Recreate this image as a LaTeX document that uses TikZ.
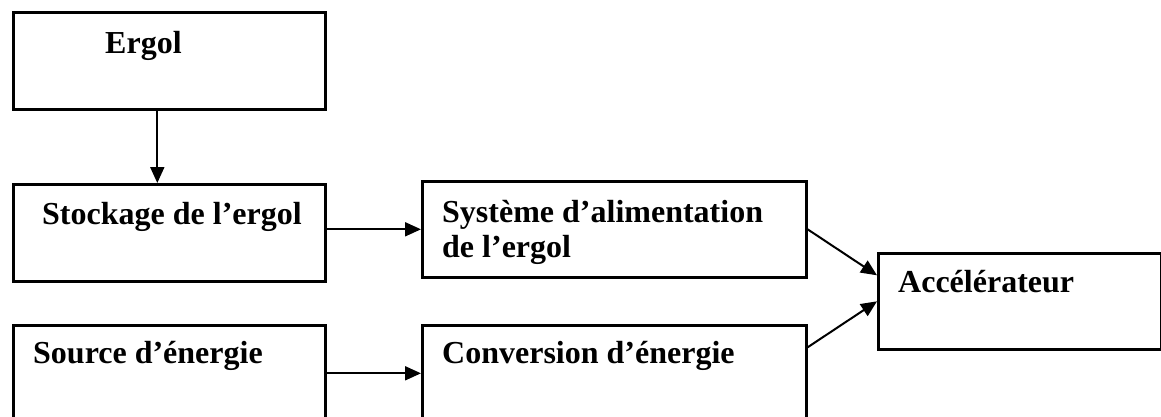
\documentclass[tikz,border=0pt]{standalone}
\usepackage{fontspec}
\setmainfont{Liberation Serif}
\usetikzlibrary{arrows.meta}
\tikzset{
  box/.style={draw=black, line width=2.6pt, rectangle, inner sep=0pt, anchor=north west},
  lbl/.style={anchor=base west, inner sep=0pt, font=\fontsize{32}{35}\selectfont\bfseries, align=left},
  arr/.style={line width=2pt, -{Triangle[length=16pt,width=14pt]}},
}
\begin{document}
\begin{tikzpicture}[x=1pt, y=-1pt]
  \useasboundingbox (0,0) rectangle (1161,416);
  \clip (0,0) rectangle (1161,416);

  % blocks
  \node[box, minimum width=312pt, minimum height=97pt] (ergol) at (12,11) {};
  \node[box, minimum width=312pt, minimum height=97pt] (stock) at (12,183) {};
  \node[box, minimum width=384pt, minimum height=96pt] (sys) at (421,180) {};
  \node[box, minimum width=312pt, minimum height=96pt] (source) at (12,324) {};
  \node[box, minimum width=384pt, minimum height=96pt] (conv) at (421,324) {};
  \node[box, minimum width=283pt, minimum height=96pt] (accel) at (877,252) {};

  % labels (a two-line label sits on the baseline of its last line)
  \node[lbl] (tergol) at (105,53) {Ergol};
  \node[lbl] (tstock) at (42,224) {Stockage de l’ergol};
  \node[lbl] (tsys) at (442,257) {Système d’alimentation\\de l’ergol};
  \node[lbl] (tsource) at (33,363) {Source d’énergie};
  \node[lbl] (tconv) at (442,363) {Conversion d’énergie};
  \node[lbl] (taccel) at (898,292) {Accélérateur};

  % connectors
  \draw[arr] ([xshift=-12pt]ergol.south) -- ([xshift=-12pt]ergol.south |- stock.north);
  \draw[arr] (stock.east |- sys.west) -- (sys.west);
  \draw[arr] (source.east) -- (conv.west);
  \draw[arr] (sys.east) -- ([yshift=26pt]accel.west);
  \draw[arr] ([yshift=26pt]conv.east) -- (accel.west);
\end{tikzpicture}
\end{document}
